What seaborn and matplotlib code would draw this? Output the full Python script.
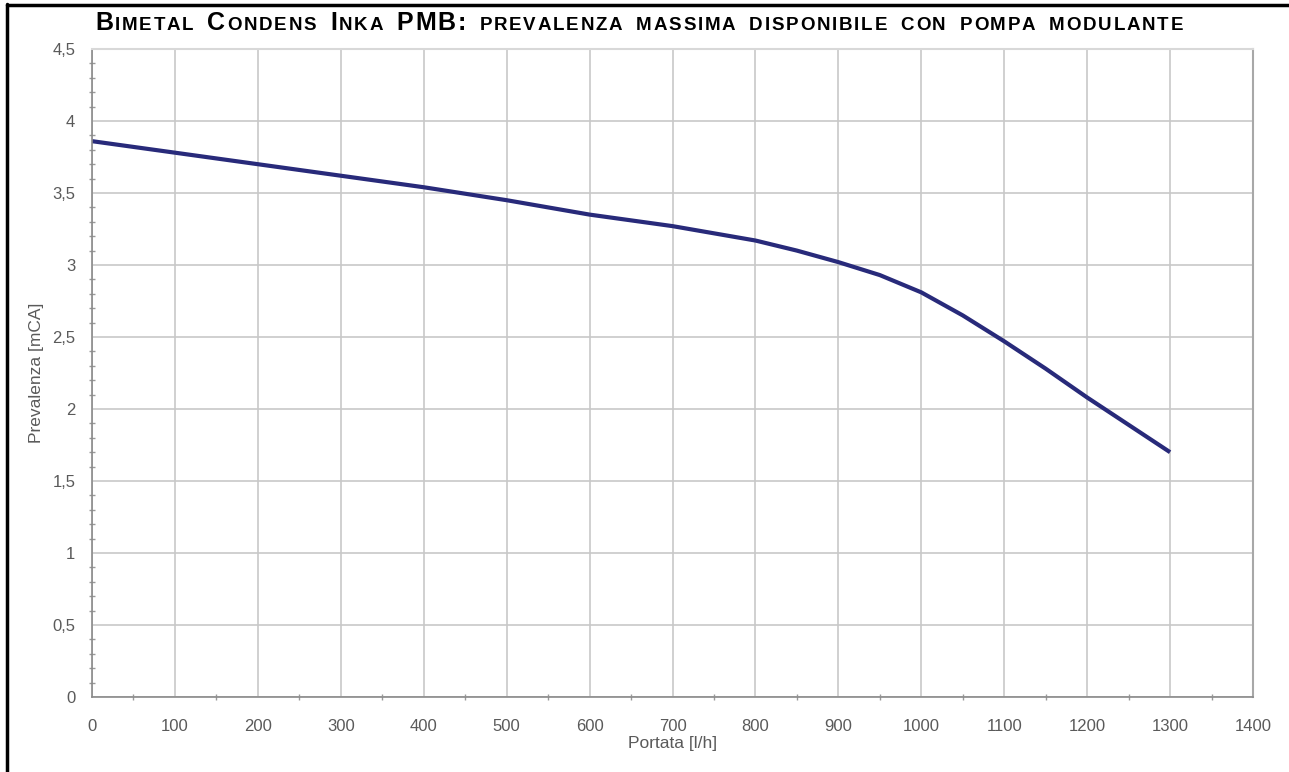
import matplotlib
matplotlib.use("Agg")
import matplotlib.pyplot as plt
from matplotlib.lines import Line2D
from matplotlib.ticker import MultipleLocator, FuncFormatter
import seaborn as sns
import pandas as pd

# Pump curve: available head vs. flow rate
flow_lh = [0, 100, 200, 300, 400, 500, 600, 700, 800, 850, 900,
           950, 1000, 1050, 1100, 1150, 1200, 1250, 1300]
head_mca = [3.86, 3.78, 3.70, 3.62, 3.54, 3.45, 3.35, 3.27, 3.17, 3.10, 3.02,
            2.93, 2.81, 2.65, 2.47, 2.28, 2.08, 1.89, 1.70]

title_text = "Bimetal Condens Inka PMB: prevalenza massima disponibile con pompa modulante"
x_label = "Portata [l/h]"
y_label = "Prevalenza [mCA]"

df = pd.DataFrame({"Portata": flow_lh, "Prevalenza": head_mca})

sns.set_style("white")
plt.rcParams["font.family"] = ["Liberation Sans", "DejaVu Sans"]

W, H = 1289, 772
fig = plt.figure(figsize=(W / 100, H / 100), dpi=100)
ax = fig.add_axes([92 / W, 1 - 697 / H, (1253 - 92) / W, (697 - 49) / H])

sns.lineplot(data=df, x="Portata", y="Prevalenza", ax=ax,
             color="#282a7a", linewidth=3.0, solid_capstyle="butt",
             solid_joinstyle="round")

ax.set_xlim(0, 1400)
ax.set_ylim(0, 4.5)
ax.xaxis.set_major_locator(MultipleLocator(100))
ax.xaxis.set_minor_locator(MultipleLocator(50))
ax.yaxis.set_major_locator(MultipleLocator(0.5))
ax.yaxis.set_minor_locator(MultipleLocator(0.1))

comma = FuncFormatter(lambda v, _: (f"{v:g}").replace(".", ","))
ax.yaxis.set_major_formatter(comma)

ax.grid(True, which="major", color="#c8c8c8", linewidth=1.2)
ax.set_axisbelow(True)

for side in ("left", "bottom"):
    ax.spines[side].set_color("#8a8a8a")
    ax.spines[side].set_linewidth(1.2)
ax.spines["right"].set_color("#a8a8a8")
ax.spines["right"].set_linewidth(1.5)
ax.spines["top"].set_color("#d8d8d8")
ax.spines["top"].set_linewidth(1.5)

ax.tick_params(which="major", direction="out", length=4, width=1,
               color="#8a8a8a", labelsize=12, labelcolor="#5a5a5a")
ax.tick_params(axis="x", which="major", pad=12)
ax.tick_params(axis="y", which="major", pad=8)
ax.tick_params(which="minor", direction="inout", length=4, width=1,
               color="#9a9a9a", left=True, bottom=True)

ax.set_xlabel(x_label, fontsize=12.5, color="#5a5a5a", labelpad=1)
ax.set_ylabel(y_label, fontsize=12.5, color="#5a5a5a", labelpad=6)

# Page frame lines (top and left)
fig.add_artist(Line2D([6.5 / W, 1.0], [1 - 4.5 / H, 1 - 4.5 / H],
                      transform=fig.transFigure, color="black", linewidth=2.5))
fig.add_artist(Line2D([6.5 / W, 6.5 / W], [0.0, 1 - 3.5 / H],
                      transform=fig.transFigure, color="black", linewidth=2.5))

# Small-caps title: capitals at full size, lowercase as smaller capitals,
# laid out glyph by glyph with tracking so it spans the header line
big_size, small_size = 18, 13.5
title_left, title_right, baseline = 95.0, 1183.0, H - 30.0
renderer = fig.canvas.get_renderer()

glyphs = []
for ch in title_text:
    if ch == " ":
        glyphs.append((None, 0.55 * small_size * 100 / 72))
        continue
    size = small_size if ch.islower() else big_size
    t = fig.text(0, baseline / H, ch.upper(), fontsize=size, fontweight="bold",
                 color="black", ha="left", va="baseline")
    glyphs.append((t, t.get_window_extent(renderer).width))

natural = sum(w for _, w in glyphs)
track = (title_right - title_left - natural) / (len(glyphs) - 1)
x_px = title_left
for t, w in glyphs:
    if t is not None:
        t.set_x(x_px / W)
    x_px += w + track

fig.savefig("out.png", dpi=100, facecolor="white")
